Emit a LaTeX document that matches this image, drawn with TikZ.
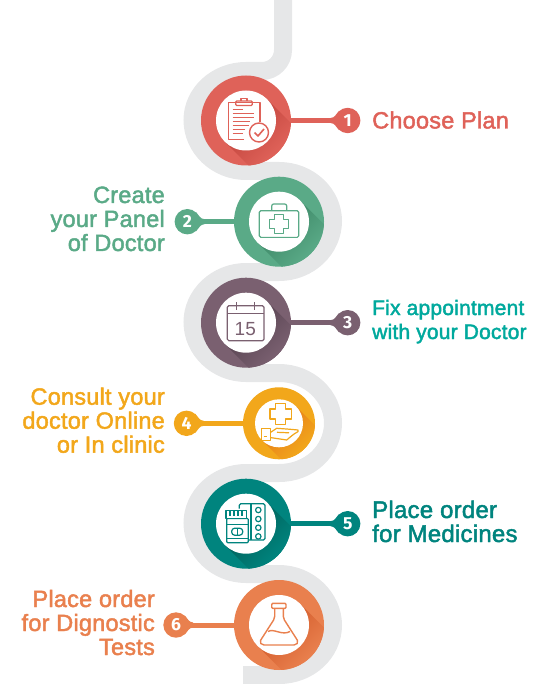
\documentclass[tikz,border=0pt]{standalone}
\usepackage{fontspec}
\setmainfont{Liberation Sans}
\newfontfamily\lblfont[FakeBold=2,LetterSpace=1]{Liberation Sans}
\newfontfamily\numfont{Fira Sans}
\definecolor{cgrey}{HTML}{E6E7E8}
\definecolor{cred}{HTML}{DF6259}\definecolor{dred}{HTML}{C4473F}
\definecolor{cgreen}{HTML}{5AAA87}\definecolor{dgreen}{HTML}{3F8A69}
\definecolor{cplum}{HTML}{7A6070}\definecolor{dplum}{HTML}{5A4553}
\definecolor{cyell}{HTML}{F2A71B}\definecolor{dyell}{HTML}{E8811A}
\definecolor{cteal}{HTML}{00847E}\definecolor{dteal}{HTML}{00635C}
\definecolor{ccoral}{HTML}{E9804E}\definecolor{dcoral}{HTML}{D55F2E}
\definecolor{caqua}{HTML}{00A99D}
\tikzset{
  ringnode/.style={circle,inner sep=0pt,minimum size=#1,draw=none},
  badgenode/.style={circle,inner sep=0pt,minimum size=25.4pt,text=white,font=\numfont\bfseries\fontsize{17.5}{17.5}\selectfont},
  iconline/.style={line width=1.2pt,line join=round,fill=none},
  lblr/.style={anchor=base east,align=right,font=\lblfont\fontsize{23.5}{24}\selectfont},
  lbll/.style={anchor=base west,align=left,font=\lblfont\fontsize{23.5}{24}\selectfont},
}
% id, cx, cy, outer r, inner r, bx, side, colour name
\newcommand{\stepring}[8]{%
  \pgfmathsetmacro{\tval}{0.7071*#5}%
  \begin{scope}[shift={(#2,#3)}]
    \node[ringnode=#4*2pt,fill=c#8] (ring#1) at (0,0) {};
    \begin{scope}
      \clip (0,0) circle (#4pt);
      \clip (\tval,-\tval) -- ++(100,100) -- ++(-1.4142*#5,1.4142*#5) -- (-\tval,\tval) -- cycle;
      \shade[top color=d#8,bottom color=c#8,middle color=d#8,shading angle=45] (-#4,-#4) rectangle (#4,#4);
    \end{scope}
    \node[ringnode=#5*2pt,fill=white] (hole#1) at (0,0) {};
  \end{scope}
  \node[badgenode,fill=c#8] (badge#1) at (#6,#3) {#1};
  \draw[c#8,line width=5pt] (ring#1) -- (badge#1);
  \fill[c#8,shift={(#6,#3)},xscale=#7]
    (-17,-2.6) .. controls (-13,-2.6) and (-12,-6) .. (-8.5,-9.8)
    -- (-8.5,9.8) .. controls (-12,6) and (-13,2.6) .. (-17,2.6) -- cycle;
}
\begin{document}
\begin{tikzpicture}[x=1pt,y=-1pt]
\useasboundingbox (0,0) rectangle (545,684);
% winding road
\draw[cgrey,line width=18pt,line cap=butt]
  (283,0) -- (283,50) .. controls +(0,11.6) and +(11.6,0) .. (262,71) -- (246,71)
  .. controls +(-29.5,0) and +(0,-27) .. (192.5,120)
  .. controls +(0,28) and +(-29.5,0) .. (246,171) -- (279,171)
  .. controls +(30,0) and +(0,-27) .. (333,221)
  .. controls +(0,28) and +(30,0) .. (279,272) -- (246,272)
  .. controls +(-29.5,0) and +(0,-27) .. (192.5,322)
  .. controls +(0,28) and +(-29.5,0) .. (246,373) -- (279,373)
  .. controls +(30,0) and +(0,-27) .. (333,423)
  .. controls +(0,28) and +(30,0) .. (279,473) -- (246,473)
  .. controls +(-29.5,0) and +(0,-27) .. (192.5,523)
  .. controls +(0,28) and +(-29.5,0) .. (246,574) -- (279,574)
  .. controls +(30,0) and +(0,-27) .. (333,625)
  .. controls +(0,28) and +(30,0) .. (279,675) -- (243,675);

\stepring{1}{246}{120.5}{45}{30}{347.7}{1}{red}
\stepring{2}{279}{221.7}{45}{30}{187.3}{-1}{green}
\stepring{3}{246}{322.7}{45}{30}{347.7}{1}{plum}
\stepring{4}{279}{423.3}{36}{24}{186.5}{-1}{yell}
\stepring{5}{246}{523.7}{45}{30}{347.7}{1}{teal}
\stepring{6}{279}{625}{45}{30}{176}{-1}{coral}

% icon 1: clipboard
\begin{scope}[shift={(246,120.5)},cred,iconline]
  \draw (-2,19) -- (-17.7,19) -- (-17.7,-18) -- (14,-18) -- (14,2);
  \draw[rounded corners=1pt] (-10.3,-15) rectangle (6.3,-19.5);
  \draw (-5,-19.5) -- (-5,-22) -- (1,-22) -- (1,-19.5);
  \foreach \yy/\xx in {-11/-3,-7/8,-3/8,1/4,5/3,9/-1,13/-3}{\draw (-13.5,\yy) -- (\xx,\yy);}
  \draw[line width=1.4pt] (13,12) circle (9.5pt);
  \draw[line width=1.6pt] (8.5,12) -- (12,15.5) -- (18,8.5);
\end{scope}
% icon 2: medical kit
\begin{scope}[shift={(279,221.7)},cgreen,iconline]
  \draw[rounded corners=1.5pt] (-19.7,-11) rectangle (19.7,15.7);
  \draw[rounded corners=2pt] (-7.3,-11) -- (-7.3,-17.7) -- (7.7,-17.7) -- (7.7,-11);
  \draw (-4.5,-7) -- (4.5,-7) -- (4.5,-2.5) -- (9.7,-2.5) -- (9.7,6.5) -- (4.5,6.5) -- (4.5,12) -- (-4.5,12) -- (-4.5,6.5) -- (-9.7,6.5) -- (-9.7,-2.5) -- (-4.5,-2.5) -- cycle;
\end{scope}
% icon 3: calendar
\begin{scope}[shift={(246,322.7)},cplum,iconline]
  \draw[rounded corners=1.5pt] (-18.7,-17) rectangle (18,18);
  \draw (-18.7,-9.3) -- (18,-9.3);
  \draw (-9.3,-20.3) -- (-9.3,-12.7) (8.3,-20.3) -- (8.3,-12.7);
  \node[text=cplum,font=\fontsize{19}{19}\selectfont,inner sep=0pt] (calnum) at (-0.7,6.3) {15};
\end{scope}
% icon 4: hand and cross
\begin{scope}[shift={(279,423.3)},cyell,iconline]
  \draw (-3.3,-20) -- (6.7,-20) -- (6.7,-14.3) -- (12.4,-14.3) -- (12.4,-4.3) -- (6.7,-4.3) -- (6.7,1) -- (-3.3,1) -- (-3.3,-4.3) -- (-9,-4.3) -- (-9,-14.3) -- (-3.3,-14.3) -- cycle;
  \draw (-17.7,5) rectangle (-8.3,17.3);
  \draw (-8.3,9) -- (-2.3,5) .. controls (5,5.5) and (12,6) .. (19,6.7) -- (19,8.3) .. controls (14,11) and (11,14) .. (7.7,16.7) -- (-8.3,14.3);
  \draw (-2,9) -- (10,9.5);
  \draw (-15.5,13.5) -- (-12,13.5);
\end{scope}
% icon 5: medicines
\begin{scope}[shift={(246,523.7)},cteal,iconline]
  \draw[rounded corners=1.5pt] (-6.7,-15) -- (-6.7,-20) -- (19,-20) -- (19,16.3) -- (2.3,16.3);
  \draw (5,-20) -- (5,16.3);
  \foreach \yy in {-13.7,-4.7,4,12.7}{\draw (12.3,\yy) circle (2.7pt);}
  \draw[fill=white,rounded corners=1pt] (-19.3,-5.3) -- (2.3,-5.3) -- (2.3,19) -- (-19.3,19) -- cycle;
  \draw[fill=white] (-20,-13) rectangle (0.5,-5.3);
  \draw (-16,-13) -- (-16,-8) (-12,-13) -- (-12,-8) (-8,-13) -- (-8,-8) (-4,-13) -- (-4,-8);
  \draw (-19.3,0.5) -- (2.3,0.5) (-19.3,15) -- (2.3,15);
  \draw[rounded corners=3pt] (-14.3,4.5) rectangle (-3.3,11.5);
  \draw (-8.8,4.5) -- (-8.8,11.5);
\end{scope}
% icon 6: flask
\begin{scope}[shift={(279,625)},ccoral,iconline,line width=1.4pt]
  \draw[rounded corners=1pt] (-7.3,-21.7) rectangle (7,-16.7);
  \draw[rounded corners=2pt] (-4.3,-16.7) -- (-4.3,-6.7) -- (-19.5,17) -- (-17,20) -- (17,20) -- (19.5,17) -- (4.3,-6.7) -- (4.3,-16.7);
  \draw (-11,6.5) .. controls (-5,3) and (3,11) .. (11,6.5);
\end{scope}

% labels
\node[lbll,text=cred,inner sep=0pt] (t1) at (372,128.5) {Choose Plan};
\node[lblr,text=cgreen,inner sep=0pt] (t2) at (165,251) {Create\\your Panel\\of Doctor};
\node[lbll,text=caqua,inner sep=0pt,font=\lblfont\fontsize{21}{24}\selectfont] (t3) at (372,339) {Fix appointment\\with your Doctor};
\node[lblr,text=cyell,inner sep=0pt] (t4) at (165,452.7) {Consult your\\doctor Online\\or In clinic};
\node[lbll,text=cteal,inner sep=0pt,font=\lblfont\fontsize{24}{24}\selectfont] (t5) at (372,542) {Place order\\for Medicines};
\node[lblr,text=ccoral,inner sep=0pt] (t6) at (155,655) {Place order\\for Dignostic\\Tests};
\end{tikzpicture}
\end{document}
